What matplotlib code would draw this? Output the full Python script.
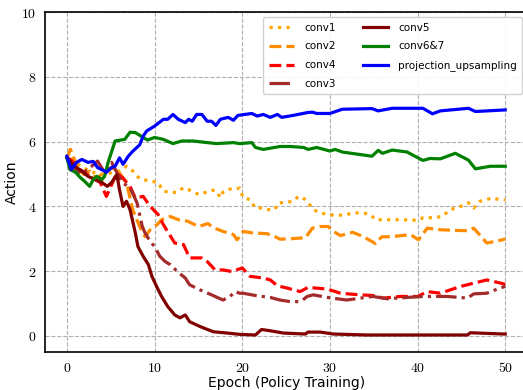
import numpy as np
import matplotlib
matplotlib.use('Agg')
import matplotlib.pyplot as plt
from matplotlib.ticker import FuncFormatter

plt.rcParams['mathtext.fontset'] = 'cm'
plt.rcParams['font.family'] = 'DejaVu Sans'

# values
conv1_x = [0, 0.4, 0.8, 1.5, 2.2, 3, 3.8, 4.5, 5.3, 6, 6.8, 7.5, 8.3, 9.5, 10.4, 11, 11.8, 12.5, 13.3, 14.4,
           15, 15.8, 16.5, 17.1, 17.5, 17.8, 18.4, 19.2, 19.7, 20.1, 20.9, 21.5, 22.2, 23, 23.7, 24.1, 24.9,
           25.8, 26.4, 26.9, 27.4, 28.1, 28.9, 29.8, 30.8, 31.9, 32.6, 33.8, 34.6, 35.2, 36.3, 38.2, 40.1,
           40.6, 41.8, 42.8, 43.7, 44.9, 45.8, 46.4, 47.1, 48.5, 49.4, 50]
conv1_y = [5.5, 5.76, 5.45, 5.25, 5.15, 5.05, 5.0, 5.0, 5.05, 5.1, 5.24, 5.1, 4.85, 4.78, 4.74, 4.47, 4.44,
           4.43, 4.58, 4.46, 4.37, 4.43, 4.5, 4.47, 4.27, 4.44, 4.54, 4.52, 4.57, 4.27, 4.21, 3.95, 3.95,
           3.9, 3.9, 4.11, 4.12, 4.16, 4.31, 4.27, 4.16, 3.9, 3.8, 3.75, 3.72, 3.75, 3.8, 3.8, 3.75, 3.59,
           3.59, 3.59, 3.57, 3.65, 3.65, 3.69, 3.9, 4.0, 4.11, 3.95, 4.16, 4.26, 4.21, 4.2]

conv2_x = [0, 0.4, 1.3, 2, 2.6, 3.4, 4.1, 4.9, 5.7, 6.8, 7.5, 8.3, 8.9, 9.5, 10.3, 10.8, 11.8, 12.7, 13.8,
           15, 16.1, 16.7, 17.8, 19, 19.4, 19.7, 20.1, 21.2, 22.8, 23.7, 24.3, 25.5, 26.4, 27.2, 28, 28.9,
           29.8, 30.4, 31.2, 32.6, 33.8, 35.2, 35.9, 37.2, 39.2, 40.1, 41.1, 42.6, 44.3, 45.8, 46.4, 47.9,
           49.7, 50]
conv2_y = [5.5, 5.76, 5.14, 4.98, 5.09, 4.83, 5.05, 5.19, 5.14, 4.74, 3.9, 3.38, 3.07, 3.28, 3.44, 3.59,
           3.69, 3.59, 3.54, 3.38, 3.47, 3.34, 3.23, 3.13, 2.97, 3.06, 3.23, 3.18, 3.16, 3.07, 2.99, 3.0,
           3.02, 3.03, 3.33, 3.38, 3.38, 3.23, 3.1, 3.2, 3.07, 2.85, 3.06, 3.07, 3.13, 2.97, 3.33, 3.28,
           3.26, 3.25, 3.33, 2.87, 2.97, 3.0]

conv4_x = [0, 0.4, 1.5, 2.6, 3.8, 4.5, 5.1, 5.7, 6.3, 7.2, 7.8, 8.7, 9.5, 10.4, 11, 12.3, 13.3, 14, 15.4,
           16, 16.9, 17.8, 18.8, 20, 20.9, 22.4, 23.2, 24, 25.1, 26.6, 27.5, 29.7, 31.2, 33.4, 34.9, 36.1,
           38, 40, 41.1, 42.6, 44.9, 46.4, 47.9, 49.8, 50]
conv4_y = [5.5, 5.45, 5.14, 4.93, 4.74, 4.31, 4.67, 5.03, 4.9, 4.62, 4.26, 4.31, 4.0, 3.75, 3.44, 2.87,
           2.82, 2.41, 2.41, 2.3, 2.04, 2.04, 1.99, 2.1, 1.84, 1.79, 1.73, 1.55, 1.48, 1.37, 1.5, 1.45,
           1.32, 1.27, 1.25, 1.17, 1.22, 1.22, 1.37, 1.32, 1.53, 1.63, 1.73, 1.61, 1.6]

conv3_x = [0, 0.8, 1.6, 2.4, 3.5, 4.3, 5.1, 6.3, 7.2, 8, 8.6, 8.9, 9.5, 10, 10.6, 11.2, 11.8, 12.6, 13.5,
           14, 15.2, 16.5, 17.8, 18.6, 19.2, 19.7, 20.1, 21.7, 23.2, 24.3, 25.5, 26.4, 26.9, 27.4, 28.1,
           29.7, 31.9, 34.9, 36.5, 38.8, 40.6, 43.4, 45.7, 46.4, 47.9, 49.4, 50]
conv3_y = [5.5, 5.2, 5.0, 5.14, 5.4, 5.05, 5.36, 4.74, 4.58, 4.11, 3.38, 3.19, 2.92, 2.76, 2.46, 2.3,
           2.2, 1.99, 1.79, 1.58, 1.42, 1.27, 1.11, 1.22, 1.37, 1.32, 1.32, 1.24, 1.19, 1.11, 1.06, 1.06,
           1.11, 1.22, 1.27, 1.19, 1.11, 1.22, 1.15, 1.19, 1.22, 1.22, 1.17, 1.3, 1.32, 1.48, 1.53]

conv5_x = [0, 0.9, 1.7, 2.4, 3.2, 4, 4.6, 5.1, 5.7, 6, 6.4, 6.8, 7.2, 7.8, 8.1, 8.7, 9.3, 9.7, 10.3, 10.8,
           11.5, 12.3, 12.9, 13.5, 14, 15.2, 16.7, 18.3, 19.7, 21.5, 22.2, 23.2, 24.7, 27.2, 27.5, 28.9,
           30.4, 34.2, 45.7, 46, 49.8, 50]
conv5_y = [5.5, 5.24, 5.09, 4.93, 4.83, 4.74, 4.62, 4.74, 4.98, 4.52, 4.0, 4.16, 3.9, 3.19, 2.76, 2.46,
           2.2, 1.84, 1.49, 1.22, 0.91, 0.65, 0.56, 0.65, 0.44, 0.29, 0.13, 0.09, 0.05, 0.03, 0.2, 0.16,
           0.09, 0.06, 0.12, 0.12, 0.06, 0.03, 0.03, 0.1, 0.06, 0.06]

conv67_x = [0, 0.35, 1, 1.5, 2, 2.6, 3, 3.4, 4, 4.3, 4.7, 5.5, 6.6, 7.2, 7.8, 8.7, 9.2, 10, 11, 12.1, 13.1,
            14.4, 16, 17.1, 19, 19.7, 21.1, 21.5, 22.4, 24.3, 25.5, 27, 27.5, 28.5, 30, 30.6, 31.4, 34.8,
            35.5, 36, 37.1, 38.8, 40.6, 41.4, 42.6, 44.3, 45.8, 46.6, 48.3, 50]
conv67_y = [5.5, 5.14, 5.05, 4.9, 4.78, 4.62, 4.83, 4.93, 4.83, 4.93, 5.36, 6.02, 6.07, 6.29, 6.28, 6.13,
            6.05, 6.13, 6.07, 5.94, 6.02, 6.02, 5.97, 5.94, 5.97, 5.94, 5.97, 5.82, 5.76, 5.85, 5.85, 5.82,
            5.76, 5.82, 5.71, 5.76, 5.68, 5.55, 5.73, 5.64, 5.74, 5.68, 5.42, 5.48, 5.47, 5.64, 5.43, 5.16,
            5.24, 5.24]

proj_x = [0, 0.5, 1.1, 1.7, 2.4, 3, 3.5, 4.3, 4.5, 5.1, 5.5, 6, 6.4, 7, 7.5, 8.3, 8.7, 9.1, 10, 11, 11.5,
          12.1, 12.7, 13.5, 13.9, 14.3, 14.8, 15.4, 16, 16.5, 17, 17.5, 18.4, 19, 19.5, 21.1, 21.7, 22.4,
          23.2, 24, 24.5, 25.8, 27.5, 28, 28.5, 30, 31.4, 34.8, 35.5, 37.1, 40.6, 41.7, 42.6, 45.8, 46.6,
          50]
proj_y = [5.55, 5.14, 5.36, 5.45, 5.36, 5.39, 5.2, 5.09, 5.05, 5.2, 5.24, 5.5, 5.3, 5.55, 5.7, 5.9, 6.17,
          6.33, 6.48, 6.69, 6.69, 6.84, 6.69, 6.59, 6.69, 6.63, 6.84, 6.84, 6.63, 6.63, 6.5, 6.69, 6.75,
          6.66, 6.81, 6.87, 6.79, 6.84, 6.75, 6.84, 6.75, 6.81, 6.9, 6.91, 6.87, 6.87, 7.0, 7.02, 6.95,
          7.03, 7.03, 6.86, 6.95, 7.03, 6.93, 6.98]

fig = plt.figure(figsize=(5.23, 3.9), dpi=100)
ax = fig.add_axes([0.086, 0.097, 0.922, 0.872])

lw = 2.3
ax.plot(conv1_x, conv1_y, color='#FFA500', linestyle=':', lw=lw, label='conv1')
ax.plot(conv2_x, conv2_y, color='#FF8C00', linestyle='--', lw=lw, label='conv2')
ax.plot(conv4_x, conv4_y, color='#FF0000', linestyle='--', lw=lw, label='conv4')
ax.plot(conv3_x, conv3_y, color='#A52A2A', linestyle='-.', lw=lw, label='conv3')
ax.plot(conv5_x, conv5_y, color='#800000', linestyle='-', lw=lw, label='conv5')
ax.plot(conv67_x, conv67_y, color='#008000', linestyle='-', lw=lw, label='conv6&7')
ax.plot(proj_x, proj_y, color='#0000FF', linestyle='-', lw=lw, label='projection_upsampling')

ax.set_xlim(-2.5, 52.5)
ax.set_ylim(-0.5, 10)
ax.set_xticks([0, 10, 20, 30, 40, 50])
ax.set_yticks([0, 2, 4, 6, 8, 10])
fmt = FuncFormatter(lambda v, p: r'$%g$' % v)
ax.xaxis.set_major_formatter(fmt)
ax.yaxis.set_major_formatter(fmt)
ax.tick_params(labelsize=10, length=0, pad=6)
ax.grid(True, linestyle='--', color='#b0b0b0', lw=0.8)
ax.set_xlabel('Epoch (Policy Training)', fontsize=10, labelpad=1)
ax.set_ylabel('Action', fontsize=10, labelpad=2)
for s in ax.spines.values():
    s.set_linewidth(1.2)

ax.legend(ncol=2, loc='upper right', fontsize=7.5, handlelength=2.4, handletextpad=1.0,
          columnspacing=2.6, labelspacing=0.85, borderpad=0.5,
          framealpha=0.9, edgecolor='#cccccc')

fig.savefig('out.png', dpi=100)
